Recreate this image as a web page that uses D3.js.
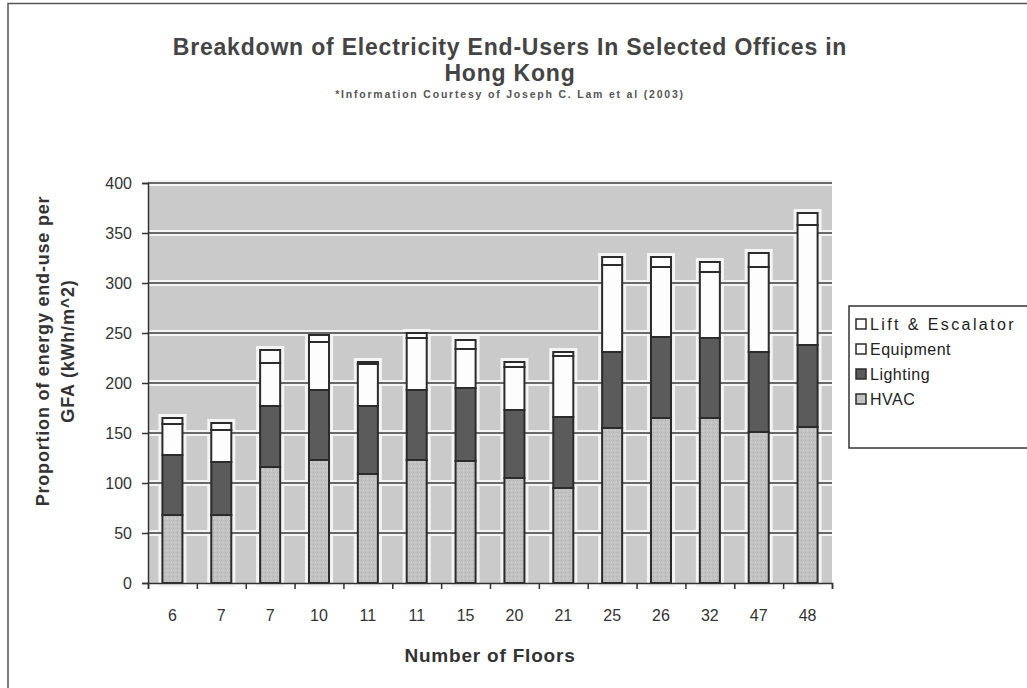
<!DOCTYPE html>
<html>
<head>
<meta charset="utf-8">
<script src="https://cdn.jsdelivr.net/npm/d3@7"></script>
<style>
  body { margin: 0; background: #fff; }
  svg { display: block; font-family: "Liberation Sans", Arial, sans-serif; }
</style>
</head>
<body>
<div id="chart"></div>
<script>
// ---- data ----
const floors = ["6", "7", "7", "10", "11", "11", "15", "20", "21", "25", "26", "32", "47", "48"];
const hvac = [68, 68, 116, 123, 109, 123, 122, 105, 95, 155, 165, 165, 151, 156];
const lighting = [60, 53, 61, 70, 68, 70, 73, 68, 71, 76, 81, 80, 80, 82];
const equipment = [31, 32, 43, 48, 42, 52, 39, 43, 61, 87, 70, 66, 85, 120];
const lift = [6, 7, 13, 7, 2, 5, 9, 5, 4, 8, 10, 10, 14, 12];
const seriesNames = ["HVAC", "Lighting", "Equipment", "Lift & Escalator"];
const yTicks = [0, 50, 100, 150, 200, 250, 300, 350, 400];

const W = 1027, H = 688;
const margin = { top: 183, right: W - 832, bottom: H - 583, left: 148 };
const width = W - margin.left - margin.right;
const height = H - margin.top - margin.bottom;

const rows = floors.map((f, i) => ({
  i, floors: f,
  "HVAC": hvac[i], "Lighting": lighting[i], "Equipment": equipment[i], "Lift & Escalator": lift[i]
}));
const stacked = d3.stack().keys(seriesNames)(rows);

const svgRoot = d3.select("#chart").append("svg").attr("width", W).attr("height", H);

// outer frame (top + left edges visible)
svgRoot.append("path")
  .attr("d", `M8,${H} L8,3.5 L${W},3.5`)
  .attr("fill", "none").attr("stroke", "#555").attr("stroke-width", 1.5);

const defs = svgRoot.append("defs");
const pat = defs.append("pattern").attr("id", "hvac-pat")
  .attr("width", 4).attr("height", 4).attr("patternUnits", "userSpaceOnUse");
pat.append("rect").attr("width", 4).attr("height", 4).attr("fill", "#c2c2c2");
pat.append("rect").attr("x", 1).attr("y", 1).attr("width", 1).attr("height", 1).attr("fill", "#acacac");
pat.append("rect").attr("x", 3).attr("y", 3).attr("width", 1).attr("height", 1).attr("fill", "#d2d2d2");

const fills = {
  "HVAC": "url(#hvac-pat)",
  "Lighting": "#5b5b5b",
  "Equipment": "#fdfdfd",
  "Lift & Escalator": "#fdfdfd"
};

// ---- titles ----
svgRoot.append("text").attr("x", 510).attr("y", 55).attr("text-anchor", "middle")
  .attr("font-size", "23px").attr("font-weight", "bold").attr("fill", "#444")
  .attr("letter-spacing", "0.8px")
  .text("Breakdown of Electricity End-Users In Selected Offices in");
svgRoot.append("text").attr("x", 510).attr("y", 81).attr("text-anchor", "middle")
  .attr("font-size", "23px").attr("font-weight", "bold").attr("fill", "#444")
  .attr("letter-spacing", "0.8px")
  .text("Hong Kong");
svgRoot.append("text").attr("x", 510).attr("y", 98).attr("text-anchor", "middle")
  .attr("font-size", "10.5px").attr("font-weight", "bold").attr("fill", "#555")
  .attr("letter-spacing", "1.8px")
  .text("*Information Courtesy of Joseph C. Lam et al (2003)");

const svg = svgRoot.append("g").attr("transform", `translate(${margin.left},${margin.top})`);

const x = d3.scaleBand().domain(d3.range(floors.length)).range([0, width])
  .paddingInner(0.59).paddingOuter(0.295);
const xEdge = d3.scaleLinear().domain([0, floors.length]).range([0, width]);
const y = d3.scaleLinear().domain([0, 400]).range([height, 0]);

// plot area
svg.append("rect").attr("width", width).attr("height", height).attr("fill", "#cacaca");

// white halos round gridlines and bars (scan look)
svg.append("g").selectAll("line").data(yTicks.slice(1)).enter().append("line")
  .attr("x1", 0).attr("x2", width).attr("y1", d => y(d)).attr("y2", d => y(d))
  .attr("stroke", "#f4f4f4").attr("stroke-width", 6);

svg.append("g").selectAll("rect").data(rows).enter().append("rect")
  .attr("x", d => x(d.i)).attr("width", x.bandwidth())
  .attr("y", d => y(d.HVAC + d.Lighting + d.Equipment + d["Lift & Escalator"]))
  .attr("height", d => y(0) - y(d.HVAC + d.Lighting + d.Equipment + d["Lift & Escalator"]))
  .attr("fill", "none").attr("stroke", "#f4f4f4").attr("stroke-width", 8);

// gridlines
svg.append("g").selectAll("line").data(yTicks.slice(1)).enter().append("line")
  .attr("x1", 0).attr("x2", width).attr("y1", d => y(d)).attr("y2", d => y(d))
  .attr("stroke", "#3a3a3a").attr("stroke-width", 1.6);

// stacked bars
svg.append("g").selectAll("g").data(stacked).enter().append("g")
  .attr("fill", d => fills[d.key])
  .selectAll("rect").data(d => d).enter().append("rect")
  .attr("x", d => x(d.data.i))
  .attr("y", d => y(d[1]))
  .attr("width", x.bandwidth())
  .attr("height", d => y(d[0]) - y(d[1]))
  .attr("stroke", "#2b2b2b").attr("stroke-width", 2);

// y axis
svg.append("g")
  .call(d3.axisLeft(y).tickValues(yTicks).tickSize(6).tickPadding(10))
  .call(g => g.selectAll("text").attr("font-size", "16px").attr("fill", "#333").attr("font-family", null))
  .call(g => g.selectAll("line, path").attr("stroke", "#333").attr("stroke-width", 1.5));

// x axis: ticks at category edges, labels centred
svg.append("g").attr("transform", `translate(0,${height})`)
  .call(d3.axisBottom(xEdge).ticks(floors.length).tickSize(6).tickFormat(""))
  .call(g => g.selectAll("line, path").attr("stroke", "#333").attr("stroke-width", 1.5));
svg.append("g").attr("transform", `translate(0,${height})`)
  .call(d3.axisBottom(x).tickSize(0).tickPadding(27).tickFormat(i => floors[i]))
  .call(g => g.select(".domain").remove())
  .call(g => g.selectAll("text").attr("font-size", "16px").attr("fill", "#333").attr("font-family", null));

// axis titles
svgRoot.append("text").attr("x", 490).attr("y", 662).attr("text-anchor", "middle")
  .attr("font-size", "19px").attr("font-weight", "bold").attr("fill", "#333")
  .attr("letter-spacing", "0.8px")
  .text("Number of Floors");
const yTitle = svgRoot.append("text")
  .attr("transform", "translate(49,351) rotate(-90)")
  .attr("text-anchor", "middle").attr("font-size", "18px").attr("font-weight", "bold").attr("fill", "#333")
  .attr("letter-spacing", "0.8px");
yTitle.append("tspan").attr("x", 0).attr("dy", 0).text("Proportion of energy end-use per");
yTitle.append("tspan").attr("x", 0).attr("dy", 25).text("GFA (kWh/m^2)");

// legend
const legend = svgRoot.append("g").attr("transform", "translate(849,306)");
legend.append("rect").attr("width", 200).attr("height", 142)
  .attr("fill", "#fff").attr("stroke", "#333").attr("stroke-width", 1.5);
const legendKeys = seriesNames.slice().reverse();
legendKeys.forEach((k, j) => {
  const g = legend.append("g").attr("transform", `translate(7,${18 + j * 25})`);
  g.append("rect").attr("x", 0).attr("y", -5).attr("width", 10).attr("height", 10)
    .attr("fill", fills[k]).attr("stroke", "#2b2b2b").attr("stroke-width", 1.5);
  g.append("text").attr("x", 14).attr("y", 0).attr("dy", "0.35em")
    .attr("font-size", "16px").attr("fill", "#222")
    .attr("letter-spacing", k === "Lift & Escalator" ? "2.4px" : "0.5px")
    .text(k);
});
</script>
</body>
</html>
